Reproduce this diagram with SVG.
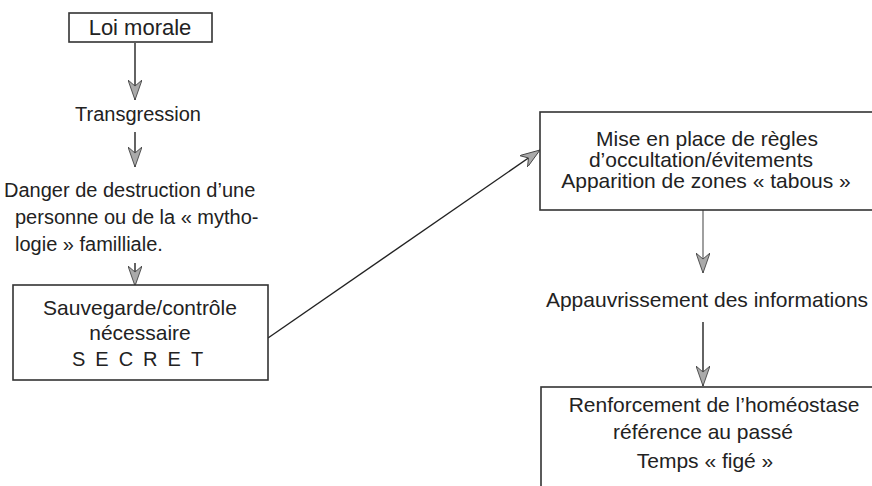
<svg xmlns="http://www.w3.org/2000/svg" width="872" height="486" viewBox="0 0 872 486">
<defs>
<style>
text{font-family:"Liberation Sans",Arial,sans-serif;fill:#222;font-size:21px}
.l{font-size:20px}
.box{fill:#fff;stroke:#333;stroke-width:1.6}
.c{stroke:#222;stroke-width:1.4;fill:none}
.g{stroke:#888;stroke-width:1.6;fill:none}
</style>
<marker id="ah" viewBox="0 0 20 14" refX="20" refY="7" markerWidth="20" markerHeight="14" markerUnits="userSpaceOnUse" orient="auto">
<path d="M0,0 L20,7 L0,14 L6,7 Z" fill="#aaa" stroke="#444" stroke-width="0.9"/>
</marker>
</defs>
<rect width="872" height="486" fill="#fff"/>
<g id="connectors">
<line class="c" x1="135" y1="43" x2="135" y2="100" marker-end="url(#ah)"/>
<line class="c" x1="135" y1="132" x2="135" y2="167" marker-end="url(#ah)"/>
<line class="c" x1="135" y1="263" x2="135" y2="286" marker-end="url(#ah)"/>
<line class="c" x1="268" y1="338" x2="540" y2="150" marker-end="url(#ah)"/>
<line class="g" x1="703" y1="210" x2="703" y2="273" marker-end="url(#ah)"/>
<line class="c" x1="703" y1="322" x2="703" y2="386" marker-end="url(#ah)"/>
</g>
<g id="loi">
<rect class="box" x="69" y="13" width="143" height="29"/>
<text x="140" y="35" text-anchor="middle" style="font-size:22px">Loi morale</text>
</g>
<g id="transgression">
<text class="l" x="138" y="121" text-anchor="middle">Transgression</text>
</g>
<g id="danger">
<text class="l" x="4" y="197">Danger de destruction d’une</text>
<text class="l" x="15" y="224">personne ou de la « mytho-</text>
<text class="l" x="15" y="251">logie » familliale.</text>
</g>
<g id="sauvegarde">
<rect class="box" x="13" y="285" width="255" height="95"/>
<text x="140" y="315" text-anchor="middle">Sauvegarde/contrôle</text>
<text x="140" y="340" text-anchor="middle">nécessaire</text>
<text x="72" y="366" style="letter-spacing:10px" class="l">SECRET</text>
</g>
<g id="regles">
<rect class="box" x="540" y="112" width="400" height="98"/>
<text x="707" y="146" text-anchor="middle">Mise en place de règles</text>
<text x="701" y="167" text-anchor="middle">d’occultation/évitements</text>
<text x="706" y="188" text-anchor="middle">Apparition de zones « tabous  »</text>
</g>
<g id="appauvrissement">
<text x="707" y="307" text-anchor="middle">Appauvrissement des informations</text>
</g>
<g id="renforcement">
<rect class="box" x="541" y="387" width="400" height="200"/>
<text x="714" y="412" text-anchor="middle">Renforcement de l’homéostase</text>
<text x="703" y="439" text-anchor="middle">référence au passé</text>
<text x="705" y="468" text-anchor="middle">Temps « figé »</text>
</g>
</svg>
